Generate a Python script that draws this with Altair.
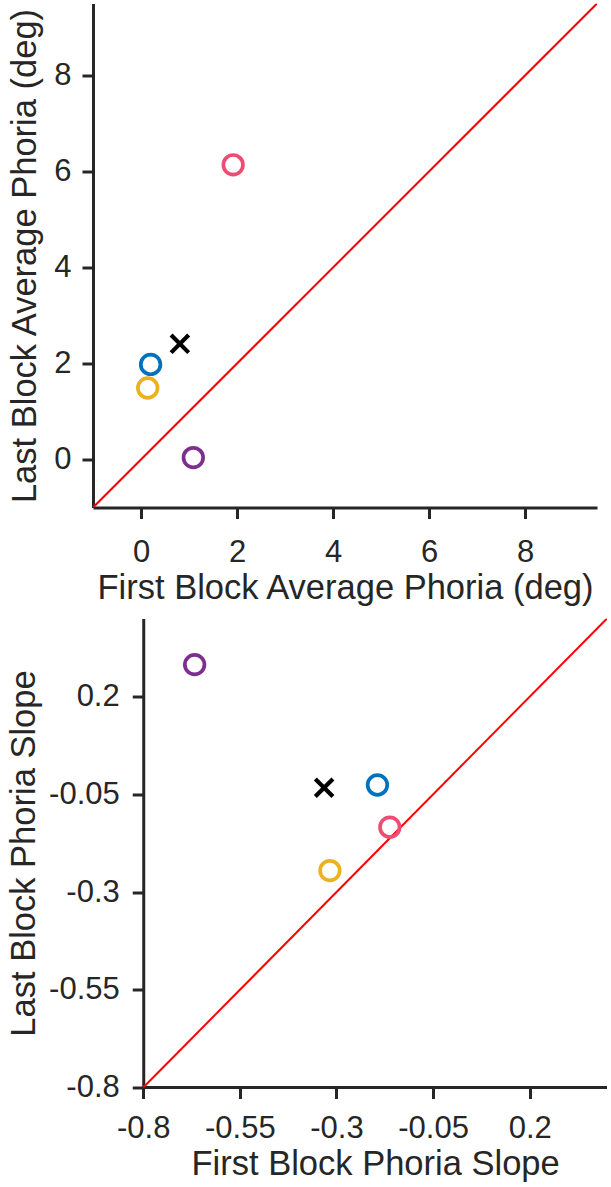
import altair as alt
import pandas as pd

# Subject colours and the marker used for the group mean
subjects = ["S1", "S2", "S3", "S4"]
colors = ["#EE4C73", "#0072BD", "#EDB120", "#7E2F8E"]

# Average phoria (deg): first block vs last block
avg_first = [1.92, 0.20, 0.14, 1.09]
avg_last = [6.14, 1.98, 1.49, 0.04]
avg_mean = [0.81, 2.41]

# Phoria slope: first block vs last block
slope_first = [-0.162, -0.194, -0.317, -0.667]
slope_last = [-0.134, -0.026, -0.245, 0.282]
slope_mean = [-0.332, -0.033]

avg_ticks = [0, 2, 4, 6, 8]
avg_domain = [-1, 9.5]
slope_ticks = [-0.8, -0.55, -0.3, -0.05, 0.2]
slope_domain = [-0.8, 0.4]

TEXT = "#262626"
FONT = "Liberation Sans"
CROSS = "M-1,-1L1,1M-1,1L1,-1"


def panel(first, last, mean, ticks, domain, xtitle, ytitle, w, h,
          y_label_pad, y_title_pad, x_label_pad, x_title_pad,
          x_lead=0.0):
    """Scatter of first vs last block with the identity line.

    x_lead widens the x scale to the left of the data range; the y-axis is
    then pushed inward by the same amount so it sits at the data minimum.
    """
    pts = pd.DataFrame({"first": first, "last": last, "subject": subjects[:len(first)]})
    mean_df = pd.DataFrame({"first": [mean[0]], "last": [mean[1]]})
    diag = pd.DataFrame({"a": [domain[0]], "b": [domain[1]]})

    xs = alt.Scale(domain=[domain[0] - x_lead, domain[1]], nice=False, zero=False)
    ys = alt.Scale(domain=domain, nice=False, zero=False)

    lead_px = x_lead * w / (domain[1] - domain[0] + x_lead)
    xaxis = alt.Axis(values=ticks, title=xtitle, labelExpr="'' + datum.value",
                     labelPadding=x_label_pad, titlePadding=x_title_pad,
                     domain=(x_lead == 0),
                     titleX=(w + lead_px) / 2 if x_lead else alt.Undefined)
    yaxis = alt.Axis(values=ticks, title=ytitle, labelExpr="'' + datum.value",
                     labelPadding=y_label_pad, titlePadding=y_title_pad,
                     offset=-lead_px)

    layers = []

    identity = alt.Chart(diag).mark_rule(color="#FF0000", strokeWidth=2, clip=True).encode(
        x=alt.X("a:Q", scale=xs, axis=xaxis),
        y=alt.Y("a:Q", scale=ys, axis=yaxis),
        x2="b:Q",
        y2="b:Q",
    )
    layers.append(identity)

    if x_lead:
        # x-axis line drawn only across the data range
        base_line = alt.Chart(diag).mark_rule(color=TEXT, strokeWidth=3).encode(
            x=alt.X("a:Q", scale=xs),
            x2="b:Q",
            y=alt.Y("a:Q", scale=ys),
        )
        layers.insert(0, base_line)

    circles = alt.Chart(pts).mark_point(
        shape="circle", filled=False, size=384, strokeWidth=3.7, opacity=1
    ).encode(
        x=alt.X("first:Q", scale=xs),
        y=alt.Y("last:Q", scale=ys),
        color=alt.Color("subject:N", scale=alt.Scale(domain=subjects, range=colors), legend=None),
    )

    cross = alt.Chart(mean_df).mark_point(
        shape=CROSS, filled=False, size=310, strokeWidth=4.2, color="black", opacity=1
    ).encode(
        x=alt.X("first:Q", scale=xs),
        y=alt.Y("last:Q", scale=ys),
    )
    layers += [circles, cross]

    return alt.layer(*layers).properties(width=w, height=h)


top = panel(avg_first, avg_last, avg_mean, avg_ticks, avg_domain,
            "First Block Average Phoria (deg)", "Last Block Average Phoria (deg)",
            504, 504, 11, 11, 19, 4)
bottom = panel(slope_first, slope_last, slope_mean, slope_ticks, slope_domain,
               "First Block Phoria Slope", "Last Block Phoria Slope",
               514, 469, 13, 7, 15, 4,
               x_lead=0.13)

chart = alt.vconcat(top, bottom, spacing=13).resolve_scale(
    x="independent", y="independent", color="shared"
).properties(
    background="white",
    padding={"left": 6, "top": 3.5, "right": 0, "bottom": 0},
).configure_view(
    stroke=None
).configure_axis(
    grid=False,
    domainColor=TEXT,
    domainWidth=3,
    tickColor=TEXT,
    tickWidth=3,
    tickSize=11,
    labelFont=FONT,
    titleFont=FONT,
    labelFontSize=31,
    titleFontSize=34.5,
    labelColor=TEXT,
    titleColor=TEXT,
    titleFontWeight="normal",
)

chart.save("out.html", embed_options={"renderer": "svg", "actions": False})
